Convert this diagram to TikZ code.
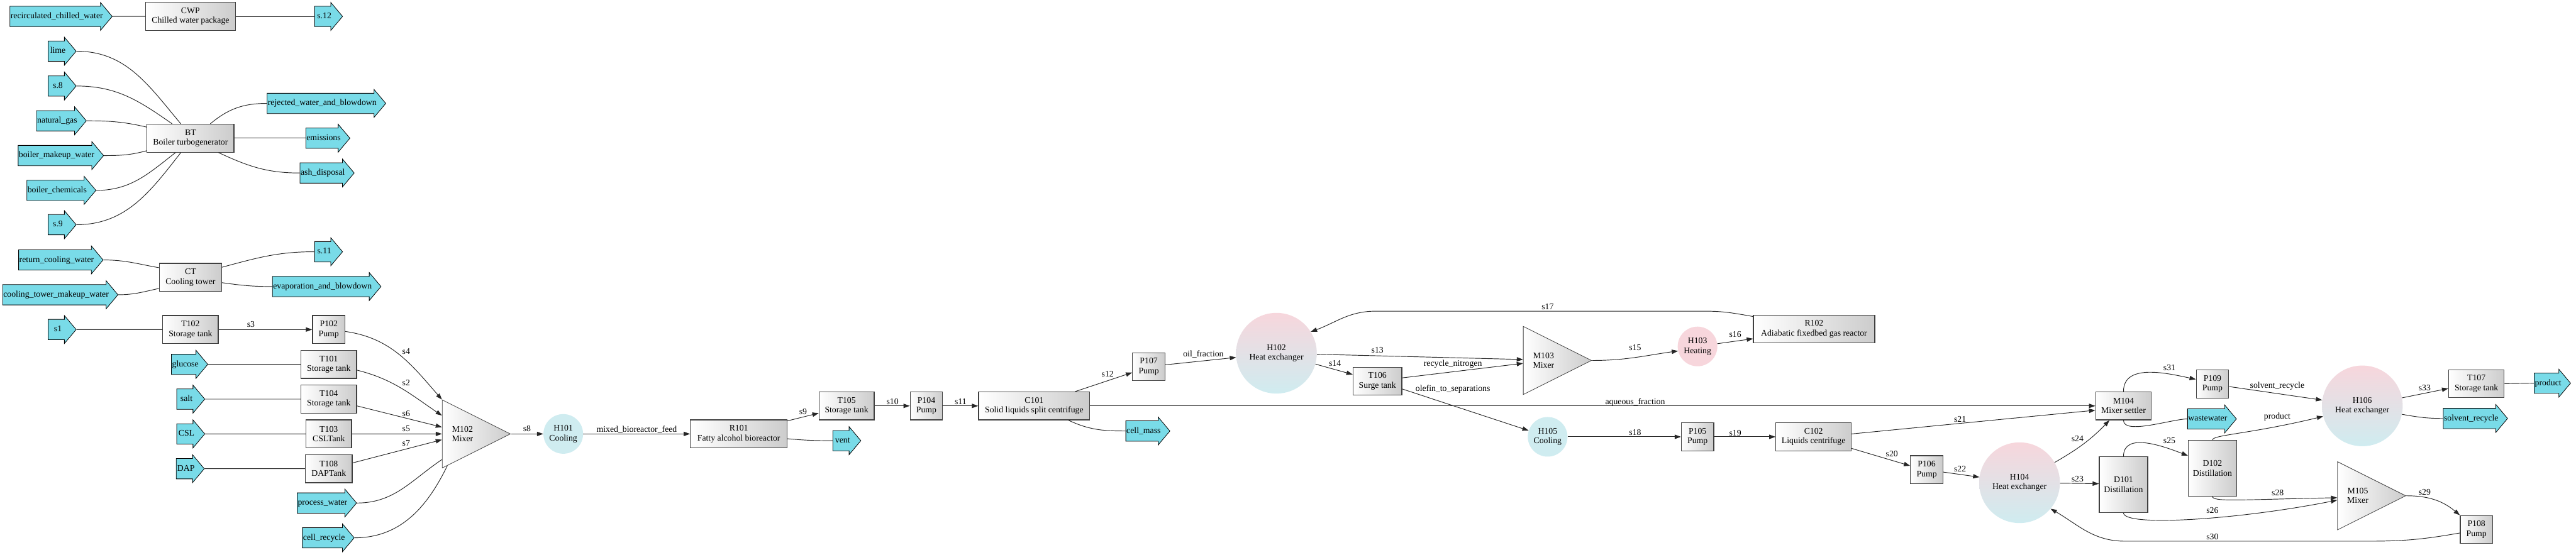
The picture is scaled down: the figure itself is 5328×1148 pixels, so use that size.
\documentclass[tikz,border=0pt]{standalone}
\usepackage{fontspec}
\setmainfont{Liberation Serif}
\usetikzlibrary{shapes.geometric,shapes.arrows,arrows.meta,calc}
\definecolor{streamcyan}{RGB}{121,219,232}
\definecolor{boxgray}{RGB}{204,204,204}
\definecolor{hotpink}{RGB}{247,214,220}
\definecolor{coldblue}{RGB}{207,236,240}
\newcommand{\pfdfont}{\fontsize{10.2pt}{11.4pt}\selectfont}

\begin{document}
\begin{tikzpicture}[x=0.02cm, y=-0.02cm,
        unit/.style={rectangle, draw=black!75, line width=0.9pt, left color=white, right color=boxgray,
            minimum width=#1, minimum height=1.16cm, inner xsep=0.1cm, align=center, font=\pfdfont},
        unit/.default=1.34cm,
        column/.style={unit=2cm, minimum height=2.3cm},
        mixer/.style={isosceles triangle, isosceles triangle stretches, minimum width=2.82cm, minimum height=2.82cm,
            inner sep=0pt, draw=black!75, line width=0.6pt, left color=white, right color=boxgray,
            anchor=apex, align=center, font=\pfdfont},
        hx/.style={circle, minimum size=3.34cm, top color=hotpink, bottom color=coldblue, align=center, font=\pfdfont},
        cooler/.style={circle, minimum size=1.64cm, inner sep=0pt, fill=coldblue, align=center, font=\pfdfont},
        heater/.style={cooler, fill=hotpink},
        stream/.style={single arrow, draw=black, line width=0.6pt, fill=streamcyan,
            single arrow head extend=0.16cm, single arrow tip angle=100,
            text height=0.25cm, text depth=0.07cm, inner ysep=0.25cm, inner xsep=0.5pt,
            minimum height=1.16cm, anchor=west, font=\pfdfont},
        pipe/.style={draw=black!85, line width=0.7pt},
        flow/.style={pipe, -{Triangle[length=0.26cm, width=0.18cm]}},
        lbl/.style={font=\pfdfont, inner sep=0pt, text height=1.6ex, text depth=0pt}]

    \path[fill=white] (0,0) rectangle (5328,1148);
    \useasboundingbox (0,0) rectangle (5328,1148);

    % utilities
    \node[stream] (rcw) at (20,34) {recirculated\_chilled\_water};
    \node[unit=3.72cm] (CWP) at (394,34) {CWP\\Chilled water package};
    \node[stream] (s12u) at (650,34) {s.12};
    \node[stream] (lime) at (99,106) {lime};
    \node[stream] (s8u) at (99,178) {s.8};
    \node[stream] (natgas) at (75,250) {natural\_gas};
    \node[stream] (bmw) at (37,322) {boiler\_makeup\_water};
    \node[stream] (bchem) at (55,394) {boiler\_chemicals};
    \node[stream] (s9u) at (99,465) {s.9};
    \node[unit=3.6cm] (BT) at (394,286) {BT\\Boiler turbogenerator};
    \node[stream] (rwb) at (552,214) {rejected\_water\_and\_blowdown};
    \node[stream] (emis) at (632,286) {emissions};
    \node[stream] (ash) at (620,358) {ash\_disposal};
    \node[stream] (rtcw) at (38,538) {return\_cooling\_water};
    \node[stream] (ctmw) at (5,610) {cooling\_tower\_makeup\_water};
    \node[unit=2.58cm] (CT) at (394,574) {CT\\Cooling tower};
    \node[stream] (s11u) at (650,521) {s.11};
    \node[stream] (evap) at (563,593) {evaporation\_and\_blowdown};

    % fermentation feeds
    \node[stream] (s1) at (99,682) {s1};
    \node[unit=2.3cm] (T102) at (394,682) {T102\\Storage tank};
    \node[unit] (P102) at (680,682) {P102\\Pump};
    \node[stream] (glucose) at (354,754) {glucose};
    \node[unit=2.3cm] (T101) at (680,754) {T101\\Storage tank};
    \node[stream] (salt) at (365,826) {salt};
    \node[unit=2.3cm] (T104) at (680,826) {T104\\Storage tank};
    \node[stream] (CSL) at (365,898) {CSL};
    \node[unit=1.88cm] (T103) at (680,898) {T103\\CSLTank};
    \node[stream] (DAP) at (364,970) {DAP};
    \node[unit=1.94cm] (T108) at (680,970) {T108\\DAPTank};
    \node[stream] (pw) at (614,1041) {process\_water};
    \node[stream] (cr) at (625,1113) {cell\_recycle};
    \node[mixer] (M102) at (1057,898) {M102\\Mixer};
    \node[cooler] (H101) at (1165,898) {H101\\Cooling};
    \node[unit=4cm] (R101) at (1528,898) {R101\\Fatty alcohol bioreactor};
    \node[unit=2.28cm] (T105) at (1751,840) {T105\\Storage tank};
    \node[stream] (vent) at (1722,912) {vent};
    \node[unit] (P104) at (1916,840) {P104\\Pump};
    \node[unit=4.6cm] (C101) at (2139,840) {C101\\Solid liquids split centrifuge};
    \node[stream] (cellmass) at (2328,892) {cell\_mass};

    % oil train
    \node[unit] (P107) at (2376,759) {P107\\Pump};
    \node[hx] (H102) at (2640,731) {H102\\Heat exchanger};
    \node[unit=2.02cm] (T106) at (2849,789) {T106\\Surge tank};
    \node[mixer] (M103) at (3293,746) {M103\\Mixer};
    \node[heater] (H103) at (3511,717) {H103\\Heating};
    \node[unit=5.02cm] (R102) at (3752,681) {R102\\Adiabatic fixedbed gas reactor};
    \node[cooler] (H105) at (3201,904) {H105\\Cooling};
    \node[unit] (P105) at (3511,904) {P105\\Pump};
    \node[unit=3.12cm] (C102) at (3751,904) {C102\\Liquids centrifuge};
    \node[unit] (P106) at (3985,972) {P106\\Pump};
    \node[hx] (H104) at (4177,999) {H104\\Heat exchanger};
    \node[unit=2.3cm] (M104) at (4392,840) {M104\\Mixer settler};
    \node[stream] (ww) at (4524,867) {wastewater};
    \node[unit] (P109) at (4576,795) {P109\\Pump};
    \node[column] (D101) at (4392,1003) {D101\\Distillation};
    \node[column] (D102) at (4576,969) {D102\\Distillation};
    \node[hx] (H106) at (4886,840) {H106\\Heat exchanger};
    \node[unit=2.3cm] (T107) at (5122,794) {T107\\Storage tank};
    \node[stream] (prod) at (5241,793) {product};
    \node[stream] (svr) at (5053,866) {solvent\_recycle};
    \node[mixer] (M105) at (4977,1026) {M105\\Mixer};
    \node[unit] (P108) at (5122,1096) {P108\\Pump};

    % utility connections
    \draw[pipe] (rcw.east) -- (CWP.west);
    \draw[pipe] (CWP.east) -- (s12u.west);
    \draw[pipe] (lime.east) to[out=0, in=130] ($(BT.north)+(-20,0)$);
    \draw[pipe] (s8u.east) to[out=0, in=145] ($(BT.north)+(-38,0)$);
    \draw[pipe] (natgas.east) to[out=0, in=167] ($(BT.west)+(0,-23)$);
    \draw[pipe] (bmw.east) to[out=0, in=195] ($(BT.west)+(0,26)$);
    \draw[pipe] (bchem.east) to[out=0, in=218] ($(BT.south)+(-31,0)$);
    \draw[pipe] (s9u.east) to[out=0, in=232] ($(BT.south)+(-20,0)$);
    \draw[pipe] ($(BT.north)+(41,0)$) to[out=40, in=180] (rwb.west);
    \draw[pipe] (BT.east) -- (emis.west);
    \draw[pipe] ($(BT.south)+(58,0)$) to[out=-25, in=180] (ash.west);
    \draw[pipe] (rtcw.east) to[out=0, in=170] ($(CT.west)+(0,-20)$);
    \draw[pipe] (ctmw.east) to[out=0, in=192] ($(CT.west)+(0,23)$);
    \draw[pipe] ($(CT.east)+(0,-21)$) to[out=15, in=180] (s11u.west);
    \draw[pipe] ($(CT.east)+(0,11)$) to[out=-8, in=180] (evap.west);

    % fermentation
    \draw[pipe] (s1.east) -- (T102.west);
    \draw[flow] (T102.east) -- (P102.west);
    \draw[pipe] (glucose.east) -- (T101.west);
    \draw[pipe] (salt.east) -- (T104.west);
    \draw[pipe] (CSL.east) -- (T103.west);
    \draw[pipe] (DAP.east) -- (T108.west);
    \draw[flow] ($(P102.east)+(0,4)$) to[out=-8, in=131] ($(M102.west)+(0,-71)$);
    \draw[flow] ($(T101.east)+(0,12)$) to[out=-14, in=146] ($(M102.west)+(0,-38)$);
    \draw[flow] ($(T104.east)+(0,14)$) -- ($(M102.west)+(0,-14)$);
    \draw[flow] (T103.east) -- (M102.west);
    \draw[flow] ($(T108.east)+(0,-12)$) -- ($(M102.west)+(0,12)$);
    \draw[pipe] (pw.east) to[out=0, in=214] ($(M102.west)+(0,53)$);
    \draw[pipe] (cr.east) to[out=0, in=244] ($(M102.west)+(11,66)$);
    \draw[flow] (M102.apex) -- (H101);
    \draw[flow] (H101) -- (R101.west);
    \draw[flow] ($(R101.east)+(0,-27)$) -- ($(T105.west)+(0,15)$);
    \draw[pipe] ($(R101.east)+(0,10)$) to[out=-5, in=180] (vent.west);
    \draw[flow] (T105.east) -- (P104.west);
    \draw[flow] (P104.east) -- (C101.west);
    \draw[flow] ($(C101.north)+(85,0)$) -- ($(P107.west)+(0,12)$);
    \draw[pipe] ($(C101.south)+(71,0)$) to[out=-25, in=180] (cellmass.west);
    \draw[flow] (C101.east) -- (M104.west);

    % oil train
    \draw[flow] ($(P107.east)+(0,-4)$) -- (H102);
    \draw[flow] (H102) -- ($(M103.west)+(0,-2)$);
    \draw[flow] (H102) -- ($(T106.west)+(0,-14)$);
    \draw[flow] ($(T106.east)+(0,-7)$) -- ($(M103.west)+(0,6)$);
    \draw[flow] ($(T106.east)+(0,16)$) -- (H105);
    \draw[flow] (M103.apex) to[out=0, in=188] (H103.193);
    \draw[flow] (H103) -- ($(R102.west)+(0,20)$);
    \coordinate (k17a) at (3527,644);
    \coordinate (k17b) at (2845,644);
    \draw[flow] ($(R102.west)+(0,-26)$) to[out=170, in=0] (k17a) -- (k17b) to[out=180, in=20] (H102.32);
    \draw[flow] (H105) -- (P105.west);
    \draw[flow] (P105.east) -- (C102.west);
    \draw[flow] ($(C102.east)+(0,-6)$) -- ($(M104.west)+(0,9)$);
    \draw[flow] ($(C102.east)+(0,24)$) -- ($(P106.west)+(0,-8)$);
    \draw[flow] ($(P106.east)+(0,5)$) -- (H104);
    \draw[flow] (H104.30) to[out=30, in=226] ($(M104.south)+(-29,0)$);
    \draw[flow] (H104) -- ($(D101.west)+(0,-2)$);
    \draw[flow] (M104.north) to[out=90, in=168] ($(P109.west)+(0,-10)$);
    \draw[pipe] (M104.south) to[out=-90, in=180, looseness=0.6] (ww.west);
    \draw[flow] (D101.north) to[out=90, in=159] ($(D102.west)+(0,-26)$);
    \draw[flow] (D102.north) .. controls +(0,-11) and +(-154,37) .. (H106.195);
    \draw[flow] (D101.south) .. controls +(0,30) and +(-200,40) .. ($(M105.west)+(0,9)$);
    \draw[flow] (D102.south) .. controls +(0,12) and +(-200,4) .. ($(M105.west)+(0,4)$);
    \draw[flow] (M105.apex) to[out=0, in=140] (P108.north west);
    \coordinate (k30a) at (4900,1120);
    \coordinate (k30b) at (4395,1120);
    \draw[flow] ($(P108.west)+(0,7)$) to[out=190, in=0] (k30a) -- (k30b) to[out=180, in=-30] (H104.-40);
    \draw[flow] ($(P109.east)+(0,5)$) -- (H106);
    \draw[flow] (H106) -- ($(T107.west)+(0,10)$);
    \draw[pipe] (H106.-12) to[out=-10, in=180] (svr.west);
    \draw[pipe] (T107.east) -- (prod.west);

    % stream labels
    \foreach \x/\y/\t [count=\i] in {519/671/s3, 840/727/s4, 840/792/s2, 840/855/s6, 840/887/s5,
            840/916/s7, 1090/887/s8, 1317/888/mixed\_bioreactor\_feed, 1661/852/s9, 1846/830/s10,
            1987/830/s11, 2291/774/s12, 2489/732/oil\_fraction, 2849/724/s13, 2761/751/s14,
            3005/751/recycle\_nitrogen, 3005/803/olefin\_to\_separations, 3382/719/s15, 3589/692/s16,
            3201/634/s17, 3382/830/aqueous\_fraction, 3382/894/s18, 3589/895/s19, 4054/867/s21,
            3913/938/s20, 4054/970/s22, 4297/907/s24, 4297/990/s23, 4487/760/s31, 4487/911/s25,
            4710/797/solvent\_recycle, 4710/860/product, 5015/802/s33, 4711/1019/s28,
            4576/1055/s26, 4576/1110/s30, 5015/1018/s29}
        \node[lbl] (lab\i) at (\x,\y) {\t};
\end{tikzpicture}
\end{document}
